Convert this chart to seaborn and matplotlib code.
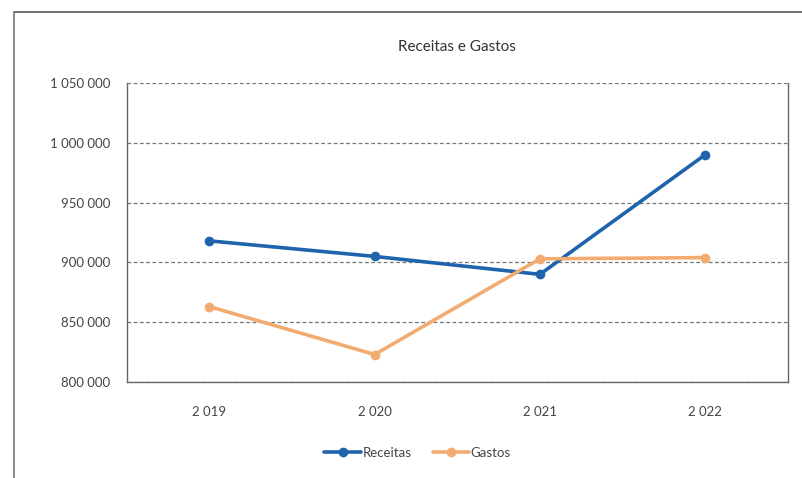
import pandas as pd
import seaborn as sns
import matplotlib.pyplot as plt
from matplotlib.lines import Line2D
from matplotlib.ticker import FuncFormatter

anos = ["2 019", "2 020", "2 021", "2 022"]
receitas = [918000, 905000, 890000, 990000]
gastos = [863000, 823000, 903000, 904000]

df = pd.DataFrame({
    "ano": anos * 2,
    "valor": receitas + gastos,
    "serie": ["Receitas"] * 4 + ["Gastos"] * 4,
})

sns.set_style("white")
plt.rcParams['font.family'] = ['Lato', 'DejaVu Sans']

fig = plt.figure(figsize=(8.03, 4.78), dpi=100)
ax = fig.add_axes([0.158, 0.2008, 0.823, 0.6256])

cores = {"Receitas": "#1f63ad", "Gastos": "#f2ac72"}
sns.lineplot(data=df, x="ano", y="valor", hue="serie", palette=cores,
             marker="o", markersize=7, markeredgewidth=0, linewidth=2.6,
             legend=False, ax=ax, sort=False)

ax.set_xlim(-0.5, 3.5)
ax.set_ylim(800000, 1050000)
ax.set_yticks([800000, 850000, 900000, 950000, 1000000, 1050000])
ax.yaxis.set_major_formatter(FuncFormatter(lambda v, p: f"{int(v):,}".replace(",", " ")))
ax.set_xlabel("")
ax.set_ylabel("")
ax.tick_params(axis="both", length=0, labelsize=9.5, colors="#444444")
ax.tick_params(axis="x", pad=17)
ax.tick_params(axis="y", pad=12)
ax.grid(axis="y", linestyle=(0, (3, 2)), color="#777777", linewidth=0.9)
ax.grid(axis="x", visible=False)
for s in ["left", "bottom", "right"]:
    ax.spines[s].set_color("#666666")
    ax.spines[s].set_linewidth(1.0)
ax.spines["top"].set_visible(False)

ax.set_title("Receitas e Gastos", fontsize=11, color="#333333", pad=23)

handles = [Line2D([0], [0], color=cores[k], lw=2.6, marker="o", markersize=7, markeredgewidth=0)
           for k in ["Receitas", "Gastos"]]
fig.legend(handles, ["Receitas", "Gastos"], loc="center", bbox_to_anchor=(0.52, 0.053),
           ncol=2, frameon=False, fontsize=9.5, handlelength=2.8, handletextpad=0.1,
           columnspacing=1.6, labelcolor="#444444")

# moldura do gráfico
fig.add_artist(Line2D([14 / 803, 1.0], [1 - 12 / 478] * 2, color="#555555", lw=1.2))
fig.add_artist(Line2D([14 / 803] * 2, [0.0, 1 - 12 / 478], color="#777777", lw=1.2))

fig.savefig("out.png", dpi=100)
